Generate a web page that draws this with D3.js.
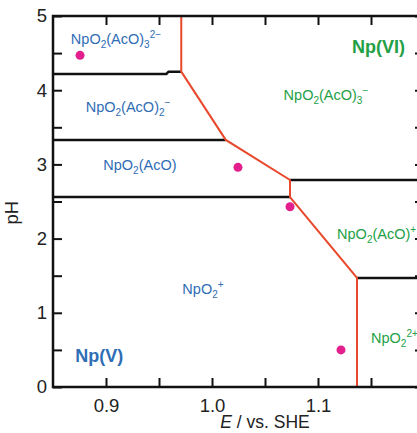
<!DOCTYPE html>
<html>
<head>
<meta charset="utf-8">
<script src="https://cdn.jsdelivr.net/npm/d3@7"></script>
<style>
  body { margin: 0; background: #fff; }
  text { font-family: "Liberation Sans", Arial, sans-serif; }
</style>
</head>
<body>
<svg id="chart"></svg>
<script>
// ticks
const xMajor = [0.9, 1.0, 1.1];
const xMinor = [0.95, 1.05, 1.15];
const yMajor = [0, 1, 2, 3, 4, 5];
const yMinor = [0.5, 1.5, 2.5, 3.5, 4.5];

// black boundaries (E / V, pH)
const npVBounds = [
  [[0.85, 4.22], [0.957, 4.22], [0.959, 4.25], [0.971, 4.25]],
  [[0.85, 3.33], [1.013, 3.33]],
  [[0.85, 2.56], [1.0736, 2.56]]
];
const npVIBounds = [
  [[1.0736, 2.79], [1.2, 2.79]],
  [[1.1368, 1.47], [1.2, 1.47]]
];
// red Np(V)/Np(VI) boundary
const redoxLine = [
  [0.971, 5], [0.971, 4.25], [1.013, 3.33], [1.0736, 2.79],
  [1.0736, 2.56], [1.1368, 1.47], [1.1368, 0]
];
// measured points
const points = [
  [0.8755, 4.47], [1.0245, 2.96], [1.0736, 2.43], [1.1217, 0.50]
];

// species labels: pieces are [text, "" | "sub" | "sup"]
const blueLabels = [
  { E: 0.9094, pH: 4.62, anchor: 'middle', parts: [["NpO", ""], ["2", "sub"], ["(AcO)", ""], ["3", "sub"], ["2\u2212", "sup"]] },
  { E: 0.9208, pH: 3.70, anchor: 'middle', parts: [["NpO", ""], ["2", "sub"], ["(AcO)", ""], ["2", "sub"], ["\u2212", "sup"]] },
  { E: 0.9320, pH: 2.92, anchor: 'middle', parts: [["NpO", ""], ["2", "sub"], ["(AcO)", ""]] },
  { E: 0.9915, pH: 1.26, anchor: 'middle', parts: [["NpO", ""], ["2", "sub"], ["+", "sup"]] }
];
const greenLabels = [
  { E: 1.1075, pH: 3.87, anchor: 'middle', parts: [["NpO", ""], ["2", "sub"], ["(AcO)", ""], ["3", "sub"], ["\u2212", "sup"]] },
  { E: 1.118, pH: 2.00, anchor: 'start', parts: [["NpO", ""], ["2", "sub"], ["(AcO)", ""], ["+", "sup"]] },
  { E: 1.150, pH: 0.59, anchor: 'start', parts: [["NpO", ""], ["2", "sub"], ["2+", "sup"]] }
];
const stateLabels = [
  { E: 0.871, pH: 0.34, text: "Np(V)", color: "#2f6db5" },
  { E: 1.132, pH: 4.50, text: "Np(VI)", color: "#23a046" }
];

const W = 417, H = 433;
const margin = { top: 16, left: 53 };

const svg = d3.select('#chart').attr('width', W).attr('height', H);

const x = d3.scaleLinear().domain([0.85, 1.2]).range([margin.left, margin.left + 371]);
const y = d3.scaleLinear().domain([0, 5]).range([387, margin.top]);

svg.append('clipPath').attr('id', 'plotClip')
  .append('rect')
  .attr('x', x(0.85)).attr('y', y(5))
  .attr('width', x(1.2) - x(0.85)).attr('height', y(0) - y(5));

const line = d3.line().x(d => x(d[0])).y(d => y(d[1]));

const plot = svg.append('g').attr('clip-path', 'url(#plotClip)');

plot.selectAll('.bound')
  .data(npVBounds.concat(npVIBounds))
  .join('path')
  .attr('class', 'bound')
  .attr('d', line)
  .attr('fill', 'none')
  .attr('stroke', '#111')
  .attr('stroke-width', 2.5);

plot.append('path')
  .datum(redoxLine)
  .attr('d', line)
  .attr('fill', 'none')
  .attr('stroke', '#e8482c')
  .attr('stroke-width', 2);

plot.selectAll('.pt')
  .data(points)
  .join('circle')
  .attr('class', 'pt')
  .attr('cx', d => x(d[0]))
  .attr('cy', d => y(d[1]))
  .attr('r', 4.5)
  .attr('fill', '#e21f8c');

// labels with sub/superscripts
function drawSpecies(sel, color) {
  sel.each(function (d) {
    const t = d3.select(this)
      .attr('x', x(d.E)).attr('y', y(d.pH))
      .attr('text-anchor', d.anchor)
      .attr('font-size', 14.5)
      .attr('fill', color);
    let cur = 0;
    d.parts.forEach(p => {
      const target = p[1] === 'sub' ? 4 : p[1] === 'sup' ? -6 : 0;
      t.append('tspan')
        .attr('dy', target - cur)
        .attr('font-size', p[1] ? 10 : 14.5)
        .text(p[0]);
      cur = target;
    });
  });
}

svg.append('g').selectAll('text')
  .data(blueLabels)
  .join('text')
  .call(drawSpecies, '#2f6db5');

svg.append('g').selectAll('text')
  .data(greenLabels)
  .join('text')
  .call(drawSpecies, '#23a046');

svg.append('g').selectAll('text')
  .data(stateLabels)
  .join('text')
  .attr('x', d => x(d.E))
  .attr('y', d => y(d.pH))
  .attr('font-size', 18)
  .attr('font-weight', 'bold')
  .attr('fill', d => d.color)
  .text(d => d.text);

// axes, ticks inward
const tickLen = 9;
function styleAxis(g) {
  g.select('.domain').remove();
  g.selectAll('.tick line').attr('stroke', '#111').attr('stroke-width', 2);
  g.selectAll('.tick text').attr('font-size', 18.5).attr('fill', '#222')
    .attr('font-family', '"Liberation Sans", Arial, sans-serif');
}

svg.append('g')
  .attr('transform', `translate(0,${y(0)})`)
  .call(d3.axisBottom(x).tickValues(xMajor).tickSize(-tickLen).tickPadding(12).tickFormat(d3.format('.1f')))
  .call(styleAxis);
svg.append('g')
  .attr('transform', `translate(0,${y(0)})`)
  .call(d3.axisBottom(x).tickValues(xMinor).tickSize(-tickLen).tickFormat(''))
  .call(styleAxis);
svg.append('g')
  .attr('transform', `translate(0,${y(5)})`)
  .call(d3.axisTop(x).tickValues(xMajor.concat(xMinor)).tickSize(-tickLen).tickFormat(''))
  .call(styleAxis);

svg.append('g')
  .attr('transform', `translate(${x(0.85)},0)`)
  .call(d3.axisLeft(y).tickValues(yMajor).tickSize(-tickLen).tickPadding(6).tickFormat(d3.format('d')))
  .call(styleAxis);
svg.append('g')
  .attr('transform', `translate(${x(0.85)},0)`)
  .call(d3.axisLeft(y).tickValues(yMinor).tickSize(-tickLen).tickFormat(''))
  .call(styleAxis);
svg.append('g')
  .attr('transform', `translate(${x(1.2)},0)`)
  .call(d3.axisRight(y).tickValues(yMajor.concat(yMinor)).tickSize(-tickLen).tickFormat(''))
  .call(styleAxis);

// frame
svg.append('rect')
  .attr('x', x(0.85)).attr('y', y(5))
  .attr('width', x(1.2) - x(0.85)).attr('height', y(0) - y(5))
  .attr('fill', 'none')
  .attr('stroke', '#111')
  .attr('stroke-width', 2.5);

// axis titles
const xTitle = svg.append('text')
  .attr('x', x(1.05))
  .attr('y', 428)
  .attr('text-anchor', 'middle')
  .attr('font-size', 17.5)
  .attr('fill', '#222');
xTitle.append('tspan').attr('font-style', 'italic').text('E');
xTitle.append('tspan').text(' / vs. SHE');

svg.append('text')
  .attr('transform', `translate(18,${y(2.35)}) rotate(-90)`)
  .attr('text-anchor', 'middle')
  .attr('font-size', 18.5)
  .attr('fill', '#222')
  .text('pH');
</script>
</body>
</html>
